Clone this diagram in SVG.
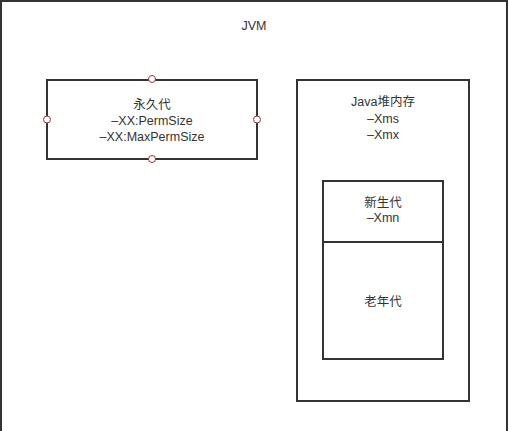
<svg xmlns="http://www.w3.org/2000/svg" width="509" height="431" viewBox="0 0 509 431">
<style>
.box{fill:#ffffff;stroke:#333333;stroke-width:2}
.t{font-family:"Liberation Sans","Noto Sans CJK SC",sans-serif;font-size:12.5px;fill:#333333;text-anchor:middle}
.pt{fill:#ffffff;stroke:#8b3a3a;stroke-width:1}
</style>
<rect width="509" height="431" fill="#ffffff"/>
<g id="jvm">
<rect class="box" x="1" y="1" width="506" height="440"/>
<text class="t" x="254" y="30">JVM</text>
</g>
<g id="permgen">
<rect class="box" x="47" y="80" width="210" height="79"/>
<text class="t" x="152" y="109">永久代</text>
<text class="t" x="152" y="125">–XX:PermSize</text>
<text class="t" x="152" y="141">–XX:MaxPermSize</text>
<circle class="pt" cx="152" cy="79" r="3.5"/>
<circle class="pt" cx="152" cy="159" r="3.5"/>
<circle class="pt" cx="47" cy="119.5" r="3.5"/>
<circle class="pt" cx="257" cy="119.5" r="3.5"/>
</g>
<g id="heap">
<rect class="box" x="297" y="80" width="172" height="321"/>
<text class="t" x="383" y="106">Java堆内存</text>
<text class="t" x="383" y="123">–Xms</text>
<text class="t" x="383" y="139">–Xmx</text>
</g>
<g id="young">
<rect class="box" x="323" y="181" width="120" height="61"/>
<text class="t" x="383" y="207">新生代</text>
<text class="t" x="383" y="222">–Xmn</text>
</g>
<g id="old">
<rect class="box" x="323" y="242" width="120" height="117"/>
<text class="t" x="383" y="306">老年代</text>
</g>
<g id="connectors"></g>
</svg>
